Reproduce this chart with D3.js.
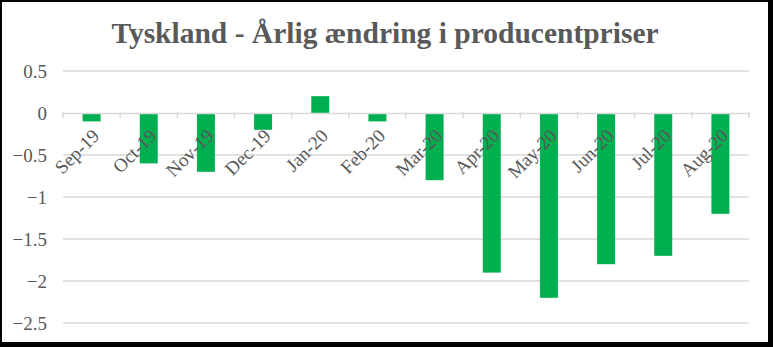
<!DOCTYPE html>
<html>
<head>
<meta charset="utf-8">
<script src="https://cdn.jsdelivr.net/npm/d3@7"></script>
<style>
  html, body { margin: 0; padding: 0; background: #000; }
  svg { display: block; }
</style>
</head>
<body>
<svg id="chart" width="773" height="347"></svg>
<script>
// Monthly year-on-year change in German producer prices (%)
const months = ["Sep-19", "Oct-19", "Nov-19", "Dec-19", "Jan-20", "Feb-20",
                "Mar-20", "Apr-20", "May-20", "Jun-20", "Jul-20", "Aug-20"];
const changes = [-0.1, -0.6, -0.7, -0.2, 0.2, -0.1, -0.8, -1.9, -2.2, -1.8, -1.7, -1.2];
const yTicks = [0.5, 0, -0.5, -1, -1.5, -2, -2.5];
const titleText = "Tyskland - Årlig ændring i producentpriser";

const W = 773, H = 347;
const margin = { left: 63, right: 24, top: 71, bottom: 24 };
const plotRight = W - margin.right;
const plotBottom = H - margin.bottom;

const textColor = "#595959";
const gridColor = "#d9d9d9";
const barColor = "#00b050";
const serif = "'Liberation Serif', 'DejaVu Serif', serif";

const svg = d3.select("#chart");

// Frame: black surround with a white chart area
svg.append("rect").attr("width", W).attr("height", H).attr("fill", "#000");
svg.append("rect").attr("x", 2).attr("y", 2)
  .attr("width", 766).attr("height", 340).attr("fill", "#fff");

const x = d3.scaleBand().domain(months).range([margin.left, plotRight]).padding(0);
const y = d3.scaleLinear().domain([-2.5, 0.5]).range([plotBottom, margin.top]);

// Title
svg.append("text")
  .attr("x", 385).attr("y", 43)
  .attr("text-anchor", "middle")
  .attr("font-family", serif)
  .attr("font-weight", "bold")
  .attr("font-size", 29.5)
  .attr("fill", textColor)
  .text(titleText);

// Horizontal gridlines
svg.append("g")
  .selectAll("line")
  .data(yTicks.filter(d => d !== 0))
  .join("line")
  .attr("x1", margin.left).attr("x2", plotRight)
  .attr("y1", d => y(d)).attr("y2", d => y(d))
  .attr("stroke", gridColor).attr("stroke-width", 1.5);

// Y axis labels
const yAxis = d3.axisLeft(y).tickValues(yTicks).tickSize(0).tickPadding(16)
  .tickFormat(d => d3.format("")(d));
const yG = svg.append("g").attr("transform", `translate(${margin.left},0)`).call(yAxis);
yG.select(".domain").remove();
yG.selectAll("text")
  .attr("font-family", serif).attr("font-size", 19)
  .attr("fill", textColor);

// Bars
const barW = x.bandwidth() * 0.315;
svg.append("g")
  .selectAll("rect")
  .data(months.map((m, i) => ({ m, v: changes[i] })))
  .join("rect")
  .attr("x", d => x(d.m) + x.bandwidth() / 2 - barW / 2)
  .attr("width", barW)
  .attr("y", d => y(Math.max(0, d.v)))
  .attr("height", d => Math.abs(y(d.v) - y(0)))
  .attr("fill", barColor);

// Zero axis line with category tick marks
const xAxis = d3.axisBottom(x).tickSize(0).tickFormat("");
const xG = svg.append("g").attr("transform", `translate(0,${y(0)})`).call(xAxis);
xG.select(".domain").attr("stroke", gridColor).attr("stroke-width", 1.5);
xG.selectAll(".tick").remove();
const bounds = months.map(m => x(m)).concat([plotRight]);
xG.selectAll("line.cat")
  .data(bounds)
  .join("line")
  .attr("class", "cat")
  .attr("x1", d => d).attr("x2", d => d)
  .attr("y1", -1).attr("y2", 5)
  .attr("stroke", gridColor).attr("stroke-width", 1.5);

// Rotated category labels
svg.append("g")
  .selectAll("text")
  .data(months)
  .join("text")
  .attr("transform", d => `translate(${x(d) + x.bandwidth() / 2 + 9},${y(0) + 24}) rotate(-45)`)
  .attr("text-anchor", "end")
  .attr("font-family", serif).attr("font-size", 19)
  .attr("fill", textColor)
  .text(d => d);
</script>
</body>
</html>
